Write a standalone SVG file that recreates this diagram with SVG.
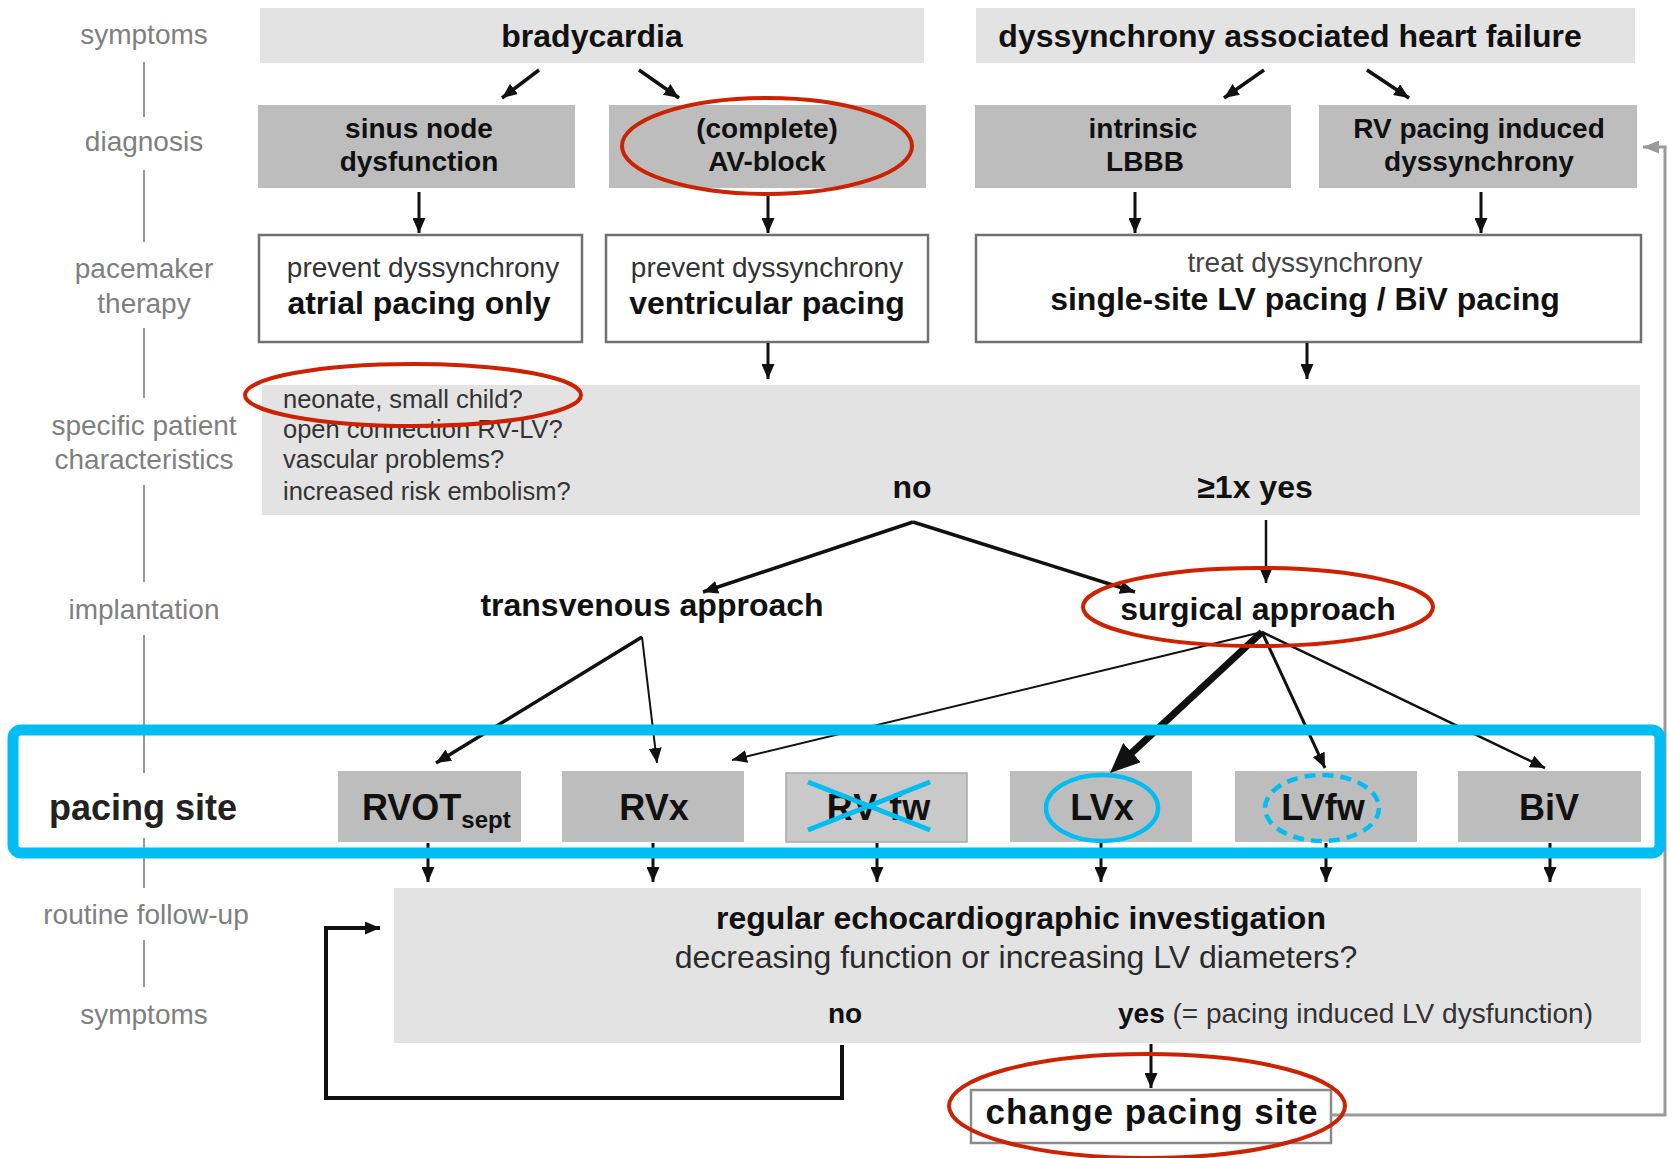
<svg xmlns="http://www.w3.org/2000/svg" width="1669" height="1158" viewBox="0 0 1669 1158">
<defs>
<style>
text{font-family:"Liberation Sans",Arial,Helvetica,sans-serif}
.lbl{fill:#7f7f7f;font-size:28px;text-anchor:middle}
.vl{stroke:#9a9a9a;stroke-width:2}
.lt{fill:#e3e3e3}
.dk{fill:#bdbdbd}
.wb{fill:#fff;stroke:#707070;stroke-width:2.5}
.b{font-weight:bold;fill:#111}
.c{text-anchor:middle}
.n{fill:#333}
.con{fill:none;stroke:#111;stroke-width:3;marker-end:url(#ah)}
.red{fill:none;stroke:#cc2200;stroke-width:4}
.blue{fill:none;stroke:#00bdf2;stroke-width:4.5}
</style>
<marker id="ah" markerUnits="userSpaceOnUse" markerWidth="15" markerHeight="13" refX="15" refY="6.5" orient="auto"><path d="M0,0 L15,6.5 L0,13 Z" fill="#111"/></marker>
<marker id="ahBig" markerUnits="userSpaceOnUse" markerWidth="30" markerHeight="26" refX="10" refY="13" orient="auto"><path d="M0,0 L30,13 L0,26 Z" fill="#111"/></marker>
<marker id="ahG" markerUnits="userSpaceOnUse" markerWidth="16" markerHeight="13" refX="16" refY="6.5" orient="auto"><path d="M0,0 L16,6.5 L0,13 Z" fill="#9a9a9a"/></marker>
</defs>
<rect x="0" y="0" width="1669" height="1158" fill="#fff"/>

<g id="stage-labels">
<text class="lbl" x="144" y="44">symptoms</text>
<line class="vl" x1="144" y1="62" x2="144" y2="117"/>
<text class="lbl" x="144" y="151">diagnosis</text>
<line class="vl" x1="144" y1="170" x2="144" y2="242"/>
<text class="lbl" x="144" y="278">pacemaker</text>
<text class="lbl" x="144" y="313">therapy</text>
<line class="vl" x1="144" y1="328" x2="144" y2="398"/>
<text class="lbl" x="144" y="435">specific patient</text>
<text class="lbl" x="144" y="469">characteristics</text>
<line class="vl" x1="144" y1="485" x2="144" y2="582"/>
<text class="lbl" x="144" y="619">implantation</text>
<line class="vl" x1="144" y1="635" x2="144" y2="773"/>
<text x="143" y="820" class="b c" style="font-size:36px;fill:#222">pacing site</text>
<line class="vl" x1="144" y1="838" x2="144" y2="888"/>
<text class="lbl" x="146" y="924">routine follow-up</text>
<line class="vl" x1="144" y1="940" x2="144" y2="987"/>
<text class="lbl" x="144" y="1024">symptoms</text>
</g>

<g id="node-bradycardia">
<rect class="lt" x="260" y="8" width="664" height="55"/>
<text class="b c" x="592" y="47" font-size="32">bradycardia</text>
</g>
<g id="node-dyssynchrony-hf">
<rect class="lt" x="976" y="8" width="659" height="55"/>
<text class="b c" x="1290" y="47" font-size="32">dyssynchrony associated heart failure</text>
</g>

<g id="node-sinus-node">
<rect class="dk" x="258" y="105" width="317" height="83"/>
<text class="b c" x="419" y="138" font-size="28">sinus node</text>
<text class="b c" x="419" y="171" font-size="28">dysfunction</text>
</g>
<g id="node-av-block">
<rect class="dk" x="609" y="105" width="317" height="83"/>
<text class="b c" x="767" y="138" font-size="28">(complete)</text>
<text class="b c" x="767" y="171" font-size="28">AV-block</text>
</g>
<g id="node-lbbb">
<rect class="dk" x="975" y="105" width="316" height="83"/>
<text class="b c" x="1143" y="138" font-size="28">intrinsic</text>
<text class="b c" x="1145" y="171" font-size="28">LBBB</text>
</g>
<g id="node-rv-induced">
<rect class="dk" x="1319" y="105" width="318" height="83"/>
<text class="b c" x="1479" y="138" font-size="28">RV pacing induced</text>
<text class="b c" x="1479" y="171" font-size="28">dyssynchrony</text>
</g>

<g id="node-atrial">
<rect class="wb" x="259" y="235" width="323" height="107"/>
<text class="c n" x="423" y="277" font-size="28">prevent dyssynchrony</text>
<text class="b c" x="419" y="314" font-size="32">atrial pacing only</text>
</g>
<g id="node-ventricular">
<rect class="wb" x="606" y="235" width="322" height="107"/>
<text class="c n" x="767" y="277" font-size="28">prevent dyssynchrony</text>
<text class="b c" x="767" y="314" font-size="32">ventricular pacing</text>
</g>
<g id="node-lv-biv">
<rect class="wb" x="976" y="235" width="665" height="107"/>
<text class="c" x="1305" y="272" font-size="28" fill="#444">treat dyssynchrony</text>
<text class="b c" x="1305" y="310" font-size="32">single-site LV pacing / BiV pacing</text>
</g>

<g id="node-patient-characteristics">
<rect class="lt" x="262" y="385" width="1378" height="130"/>
<text class="n" x="283" y="408" font-size="25.5">neonate, small child?</text>
<text class="n" x="283" y="438" font-size="25.5">open connection RV-LV?</text>
<text class="n" x="283" y="468" font-size="25.5">vascular problems?</text>
<text class="n" x="283" y="500" font-size="25.5">increased risk embolism?</text>
<text class="b c" x="912" y="498" font-size="32">no</text>
<text class="b c" x="1255" y="498" font-size="32" fill="#2a2a2a">≥1x yes</text>
</g>

<g id="node-transvenous">
<text class="b c" x="652" y="616" font-size="32">transvenous approach</text>
</g>
<g id="node-surgical">
<text class="b c" x="1258" y="620" font-size="32">surgical approach</text>
</g>

<g id="node-rvot">
<rect class="dk" x="338" y="771" width="183" height="71"/>
<text class="b" x="362" y="820" font-size="36">RVOT<tspan font-size="24" dy="8">sept</tspan></text>
</g>
<g id="node-rvx">
<rect class="dk" x="562" y="771" width="182" height="71"/>
<text class="b c" x="654" y="820" font-size="36">RVx</text>
</g>
<g id="node-rvfw">
<rect x="786" y="773" width="181" height="69" fill="#c9c9c9" stroke="#a8a8a8" stroke-width="1.5"/>
<text class="b c" x="879" y="820" font-size="36" letter-spacing="1">RV fw</text>
</g>
<g id="node-lvx">
<rect class="dk" x="1010" y="771" width="182" height="71"/>
<text class="b c" x="1102" y="820" font-size="36">LVx</text>
</g>
<g id="node-lvfw">
<rect class="dk" x="1235" y="771" width="182" height="71"/>
<text class="b c" x="1323" y="820" font-size="36">LVfw</text>
</g>
<g id="node-biv">
<rect class="dk" x="1458" y="771" width="183" height="71"/>
<text class="b c" x="1549" y="820" font-size="36">BiV</text>
</g>

<g id="node-follow-up">
<rect class="lt" x="394" y="888" width="1247" height="155"/>
<text class="b c" x="1021" y="929" font-size="32">regular echocardiographic investigation</text>
<text class="c" x="1016" y="968" font-size="32" fill="#2a2a2a">decreasing function or increasing LV diameters?</text>
<text class="b c" x="845" y="1023" font-size="28">no</text>
<text x="1118" y="1023" font-size="28" fill="#333"><tspan font-weight="bold" fill="#111">yes</tspan> (= pacing induced LV dysfunction)</text>
</g>

<g id="node-change-site">
<rect class="wb" x="971" y="1090" width="360" height="53" style="stroke:#8a8a8a"/>
<text class="b c" x="1152" y="1124" font-size="35" letter-spacing="1">change pacing site</text>
</g>

<g id="connectors">
<line class="con" style="stroke-width:3.5" x1="539" y1="70" x2="502" y2="98"/>
<line class="con" style="stroke-width:3.5" x1="639" y1="70" x2="679" y2="98"/>
<line class="con" style="stroke-width:3.5" x1="1264" y1="70" x2="1224" y2="98"/>
<line class="con" style="stroke-width:3.5" x1="1367" y1="70" x2="1409" y2="98"/>
<line class="con" x1="419" y1="192" x2="419" y2="233"/>
<line class="con" x1="768" y1="192" x2="768" y2="233"/>
<line class="con" x1="1135" y1="192" x2="1135" y2="233"/>
<line class="con" x1="1481" y1="192" x2="1481" y2="233"/>
<line class="con" x1="768" y1="343" x2="768" y2="379"/>
<line class="con" x1="1307" y1="343" x2="1307" y2="379"/>
<line class="con" style="stroke-width:3.5" x1="913" y1="522" x2="703" y2="592"/>
<line class="con" style="stroke-width:3.5" x1="913" y1="522" x2="1135" y2="592"/>
<line class="con" style="stroke-width:2.5" x1="1266" y1="520" x2="1266" y2="583"/>
<line class="con" style="stroke-width:3.5" x1="642" y1="637" x2="436" y2="763"/>
<line class="con" style="stroke-width:2" x1="642" y1="637" x2="657" y2="763"/>
<line class="con" style="stroke-width:2" x1="1262" y1="632" x2="732" y2="760"/>
<line style="fill:none;stroke:#111;stroke-width:7;marker-end:url(#ahBig)" x1="1262" y1="632" x2="1124.7" y2="759.4"/>
<line class="con" style="stroke-width:3" x1="1262" y1="632" x2="1325" y2="768"/>
<line class="con" style="stroke-width:2.5" x1="1262" y1="632" x2="1545" y2="768"/>
<line class="con" x1="428" y1="843" x2="428" y2="882"/>
<line class="con" x1="653" y1="843" x2="653" y2="882"/>
<line class="con" x1="877" y1="843" x2="877" y2="882"/>
<line class="con" x1="1101" y1="843" x2="1101" y2="882"/>
<line class="con" x1="1326" y1="843" x2="1326" y2="882"/>
<line class="con" x1="1550" y1="843" x2="1550" y2="882"/>
<path class="con" style="stroke-width:4" d="M842,1045 V1098 H326 V928 H380"/>
<line class="con" x1="1151" y1="1044" x2="1151" y2="1088"/>
<path d="M1331,1115 H1665 V147 H1643" fill="none" stroke="#9a9a9a" stroke-width="3" marker-end="url(#ahG)"/>
</g>

<g id="annotations">
<ellipse class="red" cx="767" cy="146" rx="145" ry="48"/>
<ellipse class="red" cx="413" cy="395" rx="168" ry="31"/>
<ellipse class="red" cx="1258" cy="607" rx="175" ry="39"/>
<ellipse class="red" cx="1147" cy="1106" rx="198" ry="52"/>
<rect x="13" y="730" width="1647" height="123" rx="8" fill="none" stroke="#00bdf2" stroke-width="11"/>
<line x1="808" y1="782" x2="930" y2="830" stroke="#00bdf2" stroke-width="5"/>
<line x1="808" y1="830" x2="930" y2="782" stroke="#00bdf2" stroke-width="5"/>
<ellipse class="blue" cx="1102" cy="808" rx="56" ry="33"/>
<ellipse class="blue" cx="1322" cy="808" rx="57" ry="33" stroke-dasharray="11 7"/>
</g>
</svg>
